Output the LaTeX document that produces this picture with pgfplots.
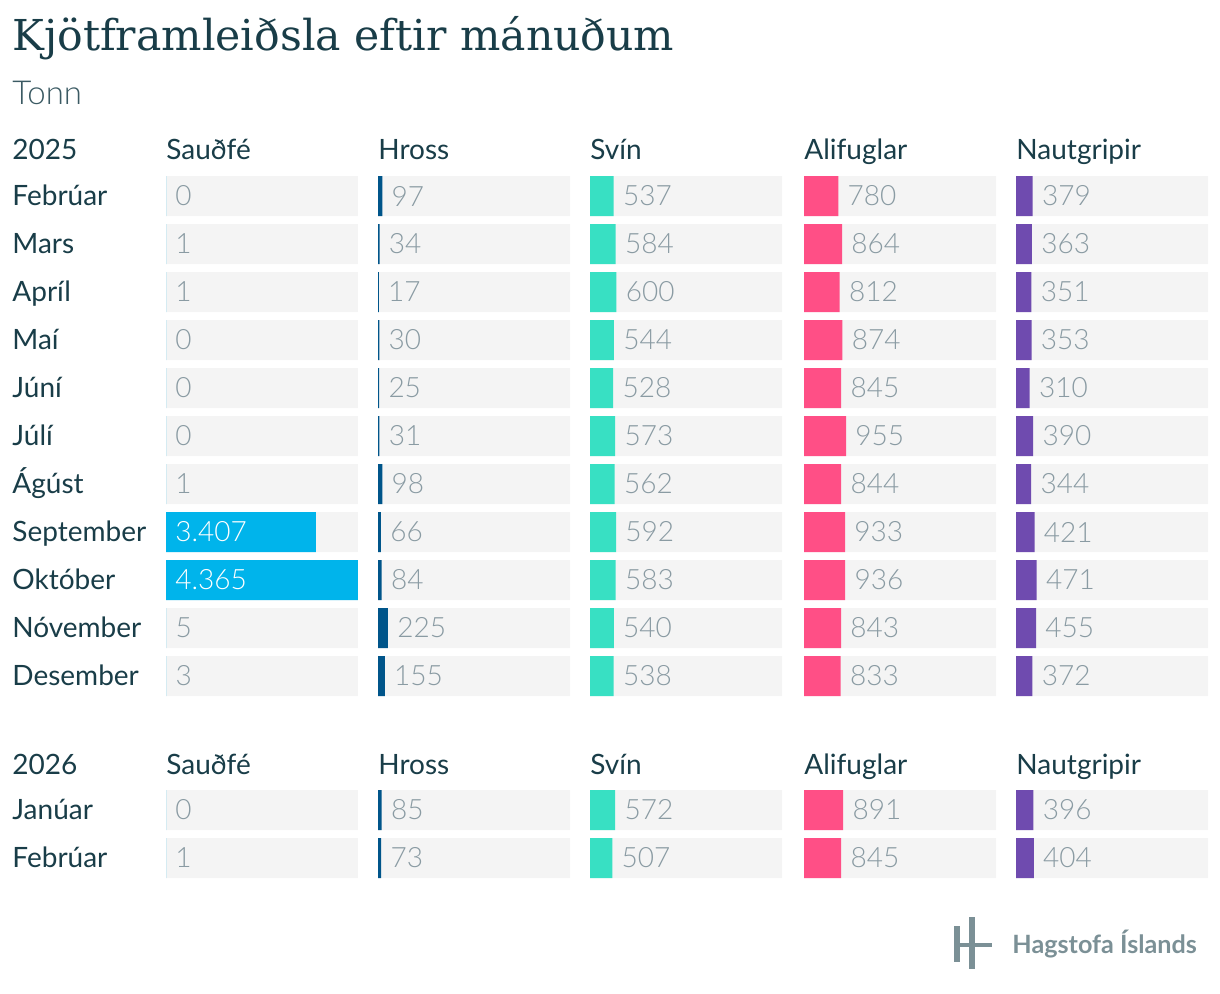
\documentclass[border=0pt]{standalone}
\usepackage{fontspec}
\setmainfont{Lato}
\newfontfamily\lightfont{Lato Light}
\newfontfamily\titlefont{DejaVu Serif}
\usepackage{pgfplots}
\usepackage{pgfplotstable}
\pgfplotsset{compat=1.18}

\definecolor{sau}{HTML}{00B4EB}
\definecolor{hro}{HTML}{00558A}
\definecolor{svi}{HTML}{38E0C3}
\definecolor{ali}{HTML}{FF4F86}
\definecolor{nau}{HTML}{6F4BAF}
\definecolor{cell}{HTML}{F4F4F4}
\definecolor{val}{HTML}{8A9BA3}
\definecolor{lab}{HTML}{193D48}
\definecolor{logo}{HTML}{7B9096}

% y = row centre in px, values in tonnes, bg = full cell width
\pgfplotstableread{
y   sau  hro svi ali nau bg
196 0    97  537 780 379 4365
244 1    34  584 864 363 4365
292 1    17  600 812 351 4365
340 0    30  544 874 353 4365
388 0    25  528 845 310 4365
436 0    31  573 955 390 4365
484 1    98  562 844 344 4365
532 3407 66  592 933 421 4365
580 4365 84  583 936 471 4365
628 5    225 540 843 455 4365
676 3    155 538 833 372 4365
810 0    85  572 891 396 4365
858 1    73  507 845 404 4365
}\data

\tikzset{
  valfont/.style={font=\lightfont\fontsize{14}{16}\selectfont},
  vallab/.style={anchor=west, inner sep=0pt, xshift=4.5pt, text=#1, valfont},
}
\pgfplotsset{
  cellax/.style={scale only axis, width=96pt, height=355pt,
    xmin=0, xmax=4365, ymin=172, ymax=882, y dir=reverse,
    hide axis, clip=false, anchor=north west},
  bgbar/.style={xbar, bar width=20pt, bar shift=0pt, draw=none, fill=cell},
  plainbar/.style={xbar, bar width=20pt, bar shift=0pt, draw=none, fill=#1},
  valbar/.style={plainbar=#1, nodes near coords, point meta=x,
    nodes near coords align=horizontal,
    every node near coord/.append style={vallab=val}},
  /pgf/number format/.cd, fixed, precision=0, assume math mode=true,
    set thousands separator={.},
}

\begin{document}
\begin{tikzpicture}[x=0.5pt, y=0.5pt]
\path[use as bounding box] (0,0) rectangle (1220,-994);
\coordinate (c1) at (166,-172);
\coordinate (c2) at (378,-172);
\coordinate (c3) at (590,-172);
\coordinate (c4) at (804,-172);
\coordinate (c5) at (1016,-172);

% titles
\node[anchor=base west, inner sep=0pt, text=lab,
  font=\titlefont\fontsize{21.3}{24}\selectfont] at (12,-51) {Kjötframleiðsla eftir mánuðum};
\node[anchor=base west, inner sep=0pt, text=lab!85,
  font=\lightfont\fontsize{16.5}{20}\selectfont] at (12,-105) {Tonn};

% row and column labels
\begin{scope}[every node/.style={anchor=base west, inner sep=0pt, text=lab,
    font=\fontsize{14}{16}\selectfont}]
  \node at (12,-160) {2025};
  \node at (12,-774) {2026};
  \foreach \h/\x in {Sauðfé/166, Hross/378, Svín/590, Alifuglar/804, Nautgripir/1016} {
    \node at (\x,-160) {\h};
    \node at (\x,-774) {\h};
  }
  \foreach \m/\c in {Febrúar/196, Mars/244, Apríl/292, Maí/340, Júní/388,
      Júlí/436, Ágúst/484, September/532, Október/580, Nóvember/628,
      Desember/676, Janúar/810, Febrúar/858}
    \node at (12,{-\c-9.5}) {\m};
\end{scope}

% Sauðfé
\begin{axis}[cellax, at={(c1)}]
  \addplot[bgbar] table[x=bg, y=y] {\data};
  \addplot[plainbar=sau] table[x=sau, y=y] {\data};
  \addplot[draw=none, mark=none, restrict x to domain=0:1000,
    nodes near coords, point meta=x,
    every node near coord/.append style={vallab=val}] table[x=sau, y=y] {\data};
  \addplot[draw=none, mark=none, nodes near coords, point meta=explicit symbolic,
    every node near coord/.append style={vallab=white}]
    coordinates {(0,532) [3.407] (0,580) [4.365]};
\end{axis}

% Hross
\begin{axis}[cellax, at={(c2)}]
  \addplot[bgbar] table[x=bg, y=y] {\data};
  \addplot[valbar=hro] table[x=hro, y=y] {\data};
\end{axis}

% Svín
\begin{axis}[cellax, at={(c3)}]
  \addplot[bgbar] table[x=bg, y=y] {\data};
  \addplot[valbar=svi] table[x=svi, y=y] {\data};
\end{axis}

% Alifuglar
\begin{axis}[cellax, at={(c4)}]
  \addplot[bgbar] table[x=bg, y=y] {\data};
  \addplot[valbar=ali] table[x=ali, y=y] {\data};
\end{axis}

% Nautgripir
\begin{axis}[cellax, at={(c5)}]
  \addplot[bgbar] table[x=bg, y=y] {\data};
  \addplot[valbar=nau] table[x=nau, y=y] {\data};
\end{axis}

% logo
\fill[logo] (954,-926) rectangle (960,-962);
\fill[logo] (969,-917) rectangle (975,-969);
\fill[logo] (954,-943) rectangle (992,-947);
\node[anchor=base west, inner sep=0pt, text=logo,
  font=\bfseries\fontsize{12.6}{14}\selectfont] at (1012,-953) {Hagstofa Íslands};
\end{tikzpicture}
\end{document}
